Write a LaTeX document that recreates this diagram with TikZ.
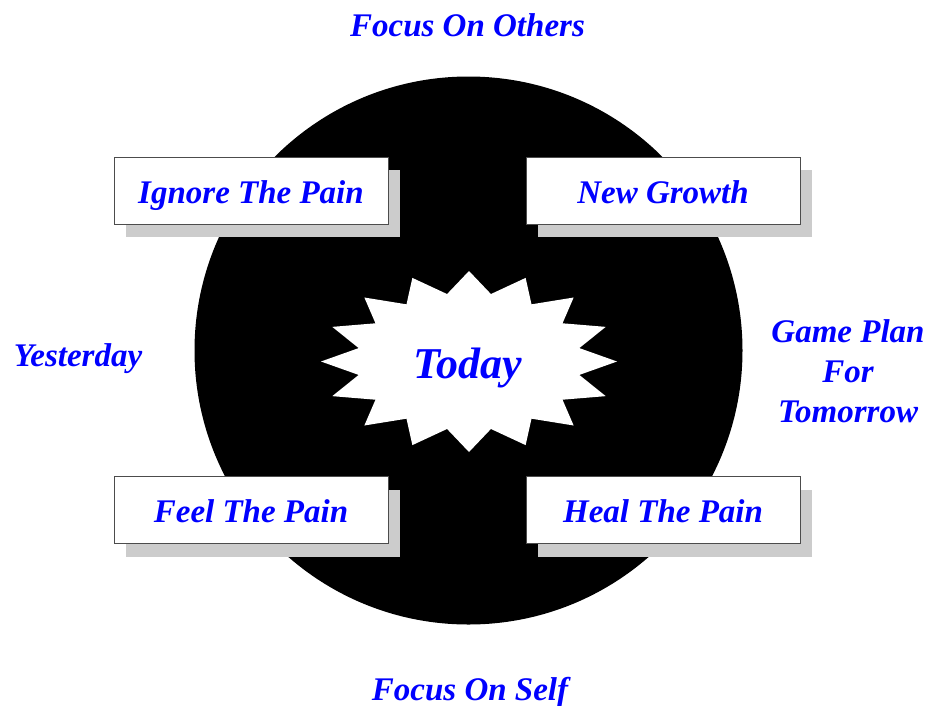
\documentclass[tikz,border=0pt]{standalone}
\usepackage{fontspec}
\setmainfont{Liberation Serif}
\usetikzlibrary{shadows}

\tikzset{
  lbl/.style={text=blue, font=\fontsize{33}{40}\selectfont\bfseries\itshape},
  painbox/.style={lbl, draw=black!70, line width=0.8pt, fill=white,
    minimum width=274pt, minimum height=67pt,
    text height=30pt, text depth=5pt,
    general shadow={fill=black!20, shadow xshift=12pt, shadow yshift=-13pt}}
}

\begin{document}
\begin{tikzpicture}[x=1pt,y=-1pt]

\useasboundingbox (0,0) rectangle (927,705);

% Disque
\fill[black]
(468.5,350.5)
circle[radius=274];

% Etoile
\fill[white]
plot[domain=0:360, samples=33]
({469+148*(0.88+0.12*cos(16*\x))*cos(\x)},
 {361.5+90.5*(0.88+0.12*cos(16*\x))*sin(\x)})
-- cycle;

\node[lbl, font=\fontsize{44}{50}\selectfont\bfseries\itshape,
  text height=38pt, text depth=5pt]
(today) at (467.5,361.5)
{Today};

% Cadres
\node[painbox] (ignore) at (251,190.5) {Ignore The Pain};
\node[painbox] (growth) at (663,190.5) {New Growth};
\node[painbox] (feel) at (251,510) {Feel The Pain};
\node[painbox] (heal) at (663,510) {Heal The Pain};

% Legendes
\node[lbl, anchor=base]
(others) at (467.5,36)
{Focus On Others};

\node[lbl, anchor=base]
(self) at (470,700)
{Focus On Self};

\node[lbl, anchor=base]
(yesterday) at (78,366)
{Yesterday};

\node[lbl, anchor=base, align=center]
(tomorrow) at (848,422)
{Game Plan\\For\\Tomorrow};

\end{tikzpicture}
\end{document}
